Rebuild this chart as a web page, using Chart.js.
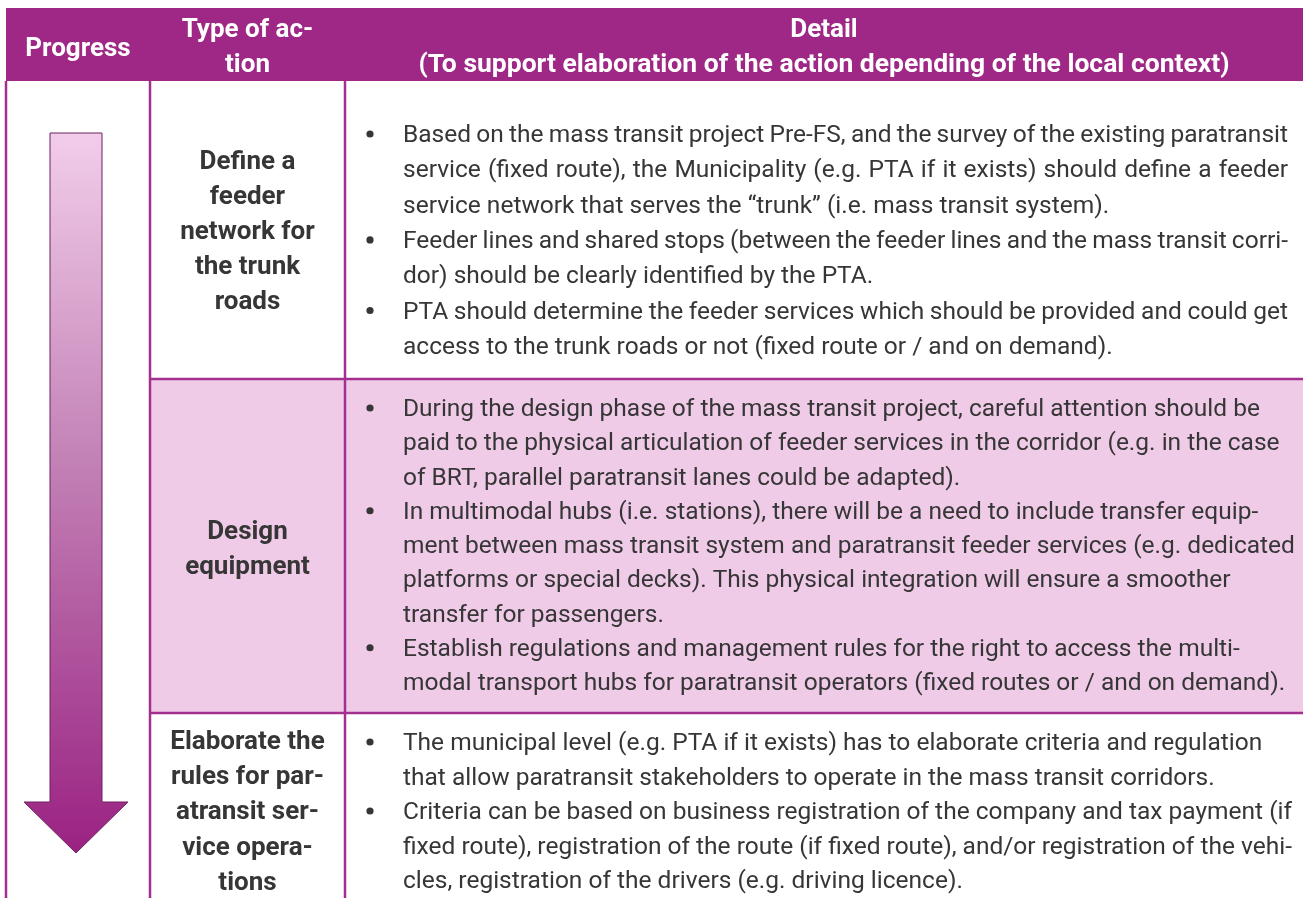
<!DOCTYPE html>
<html>
<head>
<meta charset="utf-8">
<script src="https://cdn.jsdelivr.net/npm/chart.js@4.4.1/dist/chart.umd.min.js"></script>
<style>
  html, body { margin: 0; padding: 0; background: #fff; }
  #wrap { width: 1303px; height: 898px; position: relative; }
</style>
</head>
<body>
<div id="wrap"><canvas id="table"></canvas></div>
<script>
// Table content
const headerCols = [
  ['Progress'],
  ['Type of ac-', 'tion'],
  ['Detail', '(To support elaboration of the action depending of the local context)']
];

const actionLabels = [
  ['Define a', 'feeder', 'network for', 'the trunk', 'roads'],
  ['Design', 'equipment'],
  ['Elaborate the', 'rules for par-', 'atransit ser-', 'vice opera-', 'tions']
];

const detailRow1 = [
  ['Based on the mass transit project Pre-FS, and the survey of the existing paratransit',
   'service (fixed route), the Municipality (e.g. PTA if it exists) should define a feeder',
   'service network that serves the \u201ctrunk\u201d (i.e. mass transit system).'],
  ['Feeder lines and shared stops (between the feeder lines and the mass transit corri-',
   'dor) should be clearly identified by the PTA.'],
  ['PTA should determine the feeder services which should be provided and could get',
   'access to the trunk roads or not (fixed route or / and on demand).']
];

const detailRow2 = [
  ['During the design phase of the mass transit project, careful attention should be',
   'paid to the physical articulation of feeder services in the corridor (e.g. in the case',
   'of BRT, parallel paratransit lanes could be adapted).'],
  ['In multimodal hubs (i.e. stations), there will be a need to include transfer equip-',
   'ment between mass transit system and paratransit feeder services (e.g. dedicated',
   'platforms or special decks). This physical integration will ensure a smoother',
   'transfer for passengers.'],
  ['Establish regulations and management rules for the right to access the multi-',
   'modal transport hubs for paratransit operators (fixed routes or / and on demand).']
];

const detailRow3 = [
  ['The municipal level (e.g. PTA if it exists) has to elaborate criteria and regulation',
   'that allow paratransit stakeholders to operate in the mass transit corridors.'],
  ['Criteria can be based on business registration of the company and tax payment (if',
   'fixed route), registration of the route (if fixed route), and/or registration of the vehi-',
   'cles, registration of the drivers (e.g. driving licence).']
];

const details = [detailRow1, detailRow2, detailRow3];
const rowShaded = [false, true, false];
const rowJustified = [true, false, false];

// Layout (in page pixels, mapped through the chart scales)
const W = 1303, H = 898;
const colX = [6, 150, 345, 1303];
const headTop = 8, headBottom = 81;
const rowY = [81, 379, 713, 920];
const detailStart = [134, 408, 742];
const detailStep = [35.3, 34.25, 34.5];
const labelStart = [160, 530, 740];
const labelStep = [35, 35, 35.2];
const bulletX = 370, textX = 403, textRight = 1288;

const PURPLE = '#9f2886';
const LINE = '#a3308f';
const SHADE = '#f0cbe8';
const TEXT = '#363636';

const tablePlugin = {
  id: 'tableDraw',
  afterDraw(chart) {
    const ctx = chart.ctx;
    const sx = chart.scales.x, sy = chart.scales.y;
    const px = (v) => sx.getPixelForValue(v);
    const py = (v) => sy.getPixelForValue(v);
    const rect = (x0, y0, x1, y1, fill) => {
      ctx.fillStyle = fill;
      ctx.fillRect(px(x0), py(y0), px(x1) - px(x0), py(y1) - py(y0));
    };
    ctx.save();

    // header band
    rect(colX[0], headTop, colX[3], headBottom, PURPLE);
    // shaded rows
    rowShaded.forEach((s, i) => {
      if (s) rect(colX[1], rowY[i], colX[3], rowY[i + 1], SHADE);
    });

    // header text
    ctx.fillStyle = '#fff';
    ctx.textAlign = 'center';
    ctx.textBaseline = 'alphabetic';
    headerCols.forEach((lines, c) => {
      const cx = (colX[c] + colX[c + 1]) / 2;
      const y0 = lines.length === 1 ? 47 : 28;
      lines.forEach((t, k) => {
        ctx.font = (t.length > 40 ? 'bold 26.5px' : 'bold 26px') + ' Roboto';
        ctx.fillText(t, px(cx), py(y0 + k * 35 + 9));
      });
    });

    // progress arrow
    const ax0 = 50, ax1 = 102, aTop = 133, headY = 802, hx0 = 24, hx1 = 128, tipY = 853;
    const grad = ctx.createLinearGradient(0, py(aTop), 0, py(tipY));
    grad.addColorStop(0, '#f2cdea');
    grad.addColorStop(0.45, '#c382b6');
    grad.addColorStop(1, '#9a2282');
    ctx.beginPath();
    ctx.moveTo(px(ax0), py(aTop));
    ctx.lineTo(px(ax1), py(aTop));
    ctx.lineTo(px(ax1), py(headY));
    ctx.lineTo(px(hx1), py(headY));
    ctx.lineTo(px((ax0 + ax1) / 2), py(tipY));
    ctx.lineTo(px(hx0), py(headY));
    ctx.lineTo(px(ax0), py(headY));
    ctx.closePath();
    ctx.fillStyle = grad;
    ctx.fill();
    ctx.strokeStyle = '#6b2060';
    ctx.lineWidth = 1;
    ctx.stroke();

    // action labels
    ctx.fillStyle = TEXT;
    ctx.font = 'bold 26px Roboto';
    ctx.textAlign = 'center';
    const lcx = (colX[1] + colX[2]) / 2;
    actionLabels.forEach((lines, r) => {
      lines.forEach((t, k) => ctx.fillText(t, px(lcx), py(labelStart[r] + k * labelStep[r] + 9)));
    });

    // detail bullets
    ctx.font = '24.5px Roboto';
    ctx.textAlign = 'left';
    details.forEach((bullets, r) => {
      let n = 0;
      bullets.forEach((lines) => {
        lines.forEach((t, k) => {
          const yc = detailStart[r] + n * detailStep[r];
          const yb = py(yc + 8);
          if (k === 0) {
            ctx.beginPath();
            ctx.arc(px(bulletX), py(yc), 3.6, 0, Math.PI * 2);
            ctx.fill();
          }
          const last = k === lines.length - 1;
          if (rowJustified[r] && !last) {
            const words = t.split(' ');
            const sum = words.reduce((a, w) => a + ctx.measureText(w).width, 0);
            const gap = (px(textRight) - px(textX) - sum) / (words.length - 1);
            let x = px(textX);
            words.forEach((w) => { ctx.fillText(w, x, yb); x += ctx.measureText(w).width + gap; });
          } else {
            ctx.fillText(t, px(textX), yb);
          }
          n++;
        });
      });
    });

    // grid lines
    ctx.strokeStyle = LINE;
    ctx.lineWidth = 2.5;
    ctx.beginPath();
    [colX[0], colX[1], colX[2]].forEach((x) => {
      ctx.moveTo(px(x), py(headBottom));
      ctx.lineTo(px(x), py(rowY[3]));
    });
    [rowY[1], rowY[2]].forEach((y) => {
      ctx.moveTo(px(colX[1]), py(y));
      ctx.lineTo(px(colX[3]), py(y));
    });
    ctx.stroke();
    ctx.restore();
  }
};

new Chart(document.getElementById('table'), {
  type: 'scatter',
  data: { datasets: [] },
  options: {
    responsive: true,
    maintainAspectRatio: false,
    animation: false,
    layout: { padding: 0 },
    scales: {
      x: { type: 'linear', min: 0, max: W, display: false },
      y: { type: 'linear', min: 0, max: H, reverse: true, display: false }
    },
    plugins: { legend: { display: false }, tooltip: { enabled: false } }
  },
  plugins: [tablePlugin]
});
</script>
</body>
</html>
